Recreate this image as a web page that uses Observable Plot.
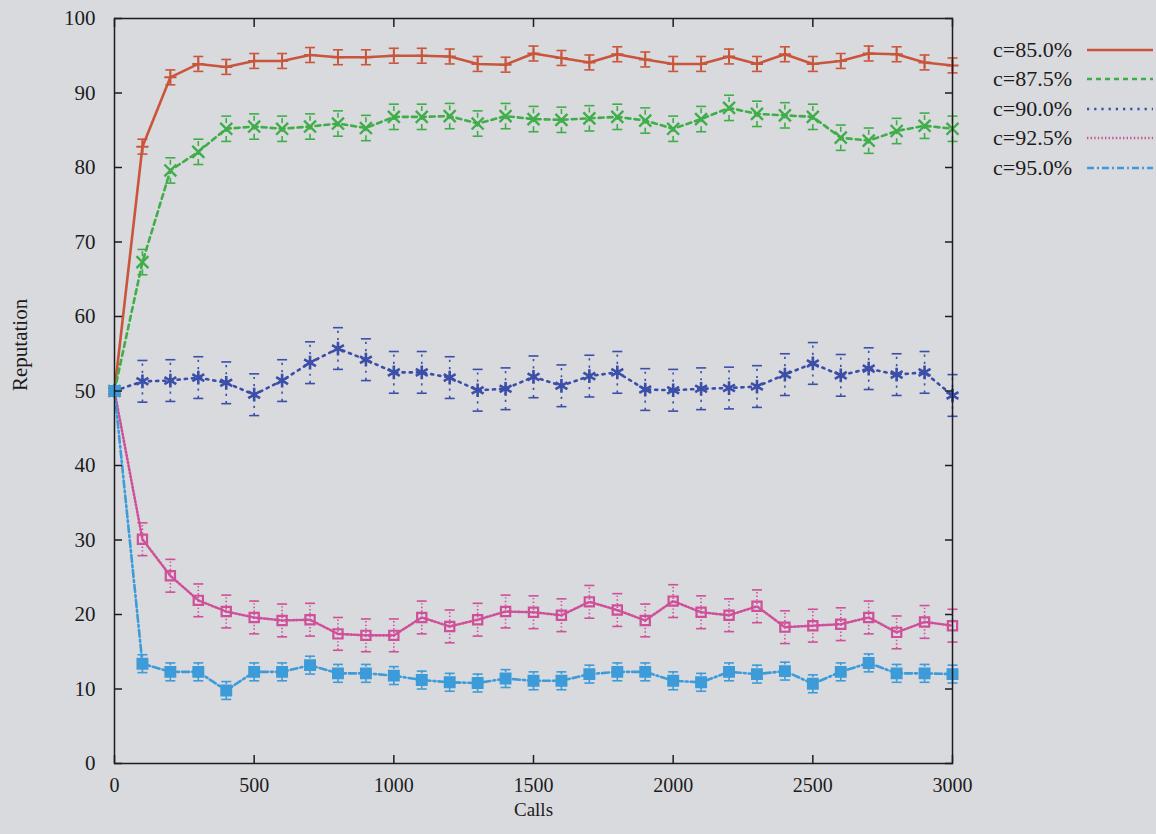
<!DOCTYPE html>
<html><head><meta charset="utf-8">
<script src="https://cdn.jsdelivr.net/npm/d3@7"></script>
<script src="https://cdn.jsdelivr.net/npm/@observablehq/plot@0.6"></script>
<style>
html,body{margin:0;padding:0;background:#d9dade;}
#wrap{position:relative;width:1156px;height:834px;font-family:"Liberation Serif","Times New Roman",serif;color:#1c1c20;overflow:hidden;}
#legend{position:absolute;left:958px;top:35px;}
.row{display:flex;align-items:center;height:29.5px;}
.row span{width:114px;text-align:right;font-size:22px;}
.row svg{margin-left:15px;display:block;}
</style></head><body><div id="wrap"><div id="legend"></div></div>
<script>
const calls = [0,100,200,300,400,500,600,700,800,900,1000,1100,1200,1300,1400,1500,1600,1700,1800,1900,2000,2100,2200,2300,2400,2500,2600,2700,2800,2900,3000];
const seriesNames = ["c=85.0%","c=87.5%","c=90.0%","c=92.5%","c=95.0%"];
const rep850 = [50,82.8,92.1,93.9,93.5,94.3,94.3,95.1,94.8,94.8,95.0,95.0,94.9,93.9,93.8,95.3,94.7,94.1,95.2,94.5,93.9,93.9,94.9,93.9,95.2,93.9,94.3,95.3,95.2,94.1,93.7];
const rep875 = [50,67.3,79.6,82.1,85.2,85.5,85.2,85.5,85.9,85.3,86.8,86.8,86.9,85.9,86.9,86.5,86.4,86.6,86.8,86.3,85.2,86.5,88.0,87.2,87.0,86.8,84.0,83.6,84.9,85.6,85.2];
const rep900 = [50,51.3,51.4,51.8,51.1,49.5,51.4,53.8,55.7,54.2,52.5,52.5,51.8,50.1,50.3,51.9,50.7,52.0,52.5,50.2,50.1,50.3,50.4,50.6,52.2,53.7,52.1,53.0,52.2,52.5,49.4];
const rep925 = [50,30.1,25.2,21.9,20.4,19.6,19.2,19.3,17.4,17.2,17.2,19.6,18.4,19.3,20.4,20.3,19.9,21.7,20.6,19.2,21.8,20.3,19.9,21.1,18.3,18.5,18.7,19.6,17.6,19.0,18.5];
const rep950 = [50,13.4,12.3,12.3,9.8,12.3,12.3,13.2,12.1,12.1,11.8,11.2,10.9,10.8,11.4,11.1,11.1,12.0,12.3,12.3,11.1,10.9,12.3,12.0,12.4,10.7,12.3,13.5,12.1,12.1,12.0];
const errHalf = [1.0,1.7,2.8,2.2,1.2];
const xTicks = [0,500,1000,1500,2000,2500,3000];
const yTicks = [0,10,20,30,40,50,60,70,80,90,100];

const allSeries = [rep850,rep875,rep900,rep925,rep950];
const colors = ["#c9553b","#3fae49","#3b4ea8","#cf4f98","#3c9bd8"];
const dashes = [null,"5,4","2.2,5","1.4,2.2","7,3,2,3"];
const symbols = ["plus","times","asterisk","square","square"];
const fills = ["none","none","none","none","#3c9bd8"];
const symR = [4,5.5,6.5,5.2,5.6];
const symW = [2,2.4,2.6,2.2,2];
const fmt = d => String(d);

const capSymbol = {draw(ctx, size){ const r = Math.sqrt(size/Math.PI); ctx.moveTo(-r,0); ctx.lineTo(r,0); }};

const marks = [];
allSeries.forEach((vals, i) => {
  const rows = calls.map((c, j) => ({calls: c, rep: vals[j], err: c === 0 ? 0 : errHalf[i]}));
  const withErr = rows.filter(d => d.err > 0);
  const st = {stroke: colors[i], strokeDasharray: dashes[i]};
  marks.push(Plot.line(rows, {x: "calls", y: "rep", ...st, strokeWidth: 2.6}));
  marks.push(Plot.ruleX(withErr, {x: "calls", y1: d => d.rep - d.err, y2: d => d.rep + d.err, ...st, strokeWidth: 1.6}));
  marks.push(Plot.dot(withErr, {x: "calls", y: d => d.rep + d.err, symbol: capSymbol, r: 5, stroke: colors[i], strokeWidth: 1.6}));
  marks.push(Plot.dot(withErr, {x: "calls", y: d => d.rep - d.err, symbol: capSymbol, r: 5, stroke: colors[i], strokeWidth: 1.6}));
  marks.push(Plot.dot(rows, {x: "calls", y: "rep", symbol: symbols[i], r: symR[i], stroke: colors[i], fill: fills[i], strokeWidth: symW[i]}));
});

const chart = Plot.plot({
  width: 1156, height: 834,
  marginLeft: 114, marginRight: 204, marginTop: 18, marginBottom: 71,
  style: {background: "transparent", fontFamily: "Liberation Serif, Times New Roman, serif", fontSize: "20px", color: "#1c1c20"},
  x: {domain: [0, 3000]},
  y: {domain: [0, 100]},
  marks: [
    ...marks,
    Plot.frame({stroke: "#1c1c20", strokeWidth: 1.5}),
    Plot.axisX(xTicks, {anchor: "bottom", tickSize: 0, tickPadding: 14, tickFormat: fmt, label: null, fontSize: 20}),
    Plot.axisX(xTicks, {anchor: "bottom", tickSize: -8, tickFormat: () => "", label: null, strokeWidth: 1.5}),
    Plot.axisX(xTicks, {anchor: "top", tickSize: -8, tickFormat: () => "", label: null, strokeWidth: 1.5}),
    Plot.axisY(yTicks, {anchor: "left", tickSize: 0, tickPadding: 19, tickFormat: fmt, label: null, fontSize: 21}),
    Plot.axisY(yTicks, {anchor: "left", tickSize: -8, tickFormat: () => "", label: null, strokeWidth: 1.5}),
    Plot.axisY(yTicks, {anchor: "right", tickSize: -8, tickFormat: () => "", label: null, strokeWidth: 1.5}),
    Plot.text(["Calls"], {frameAnchor: "bottom", dy: 52, text: d => d, fontSize: 19}),
    Plot.text(["Reputation"], {frameAnchor: "left", dx: -94, rotate: -90, text: d => d, fontSize: 21})
  ]
});
document.getElementById("wrap").prepend(chart);

const legend = document.getElementById("legend");
seriesNames.forEach((name, i) => {
  const row = document.createElement("div");
  row.className = "row";
  const span = document.createElement("span");
  span.textContent = name;
  row.appendChild(span);
  const svg = d3.create("svg").attr("width", 66).attr("height", 10);
  svg.append("line").attr("x1", 0).attr("x2", 66).attr("y1", 5).attr("y2", 5)
    .attr("stroke", colors[i]).attr("stroke-width", 2.6)
    .attr("stroke-dasharray", dashes[i]);
  row.appendChild(svg.node());
  legend.appendChild(row);
});
</script>
</body></html>
